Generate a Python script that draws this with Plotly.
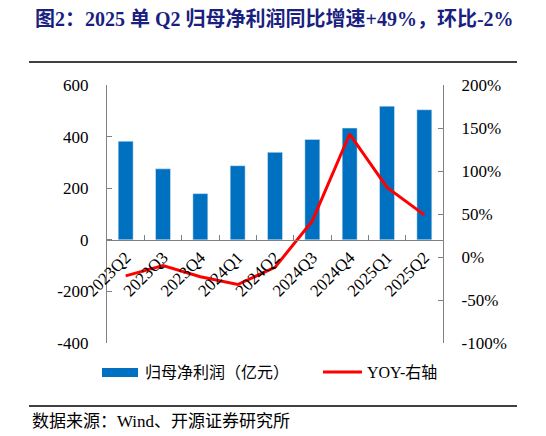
import plotly.graph_objects as go

# Data
quarters = ['2023Q2', '2023Q3', '2023Q4', '2024Q1', '2024Q2',
            '2024Q3', '2024Q4', '2025Q1', '2025Q2']
profit = [382, 275, 179, 287, 339, 389, 433, 518, 504]   # 归母净利润 (亿元)
yoy = [-22, -10, -23, -32, -12, 42, 143, 81, 49]         # YOY, %

left_ticks = [-400, -200, 0, 200, 400, 600]
left_labels = ['-400', '-200', '0', '200', '400', '600']
right_ticks = [-100, -50, 0, 50, 100, 150, 200]
right_labels = ['-100%', '-50%', '0%', '50%', '100%', '150%', '200%']

title_text = '图2：2025 单 Q2 归母净利润同比增速+49%，环比-2%'
source_text = '数据来源：Wind、开源证券研究所'
legend_names = ['归母净利润（亿元）', 'YOY-右轴']

serif = 'Liberation Serif, Noto Sans CJK SC'
axis_grey = '#808080'

# plot area in pixels (to place the surrounding decorations)
W, H = 546, 436
L, R, T, B = 107, 443, 85, 343


def px(x):
    return (x - L) / (R - L)


def py(y):
    return (B - y) / (B - T)


fig = go.Figure()
fig.add_trace(go.Bar(x=quarters, y=profit, name=legend_names[0],
                     marker=dict(color='#0070C0'), width=0.4,
                     showlegend=False))
fig.add_trace(go.Scatter(x=quarters, y=yoy, name=legend_names[1], yaxis='y2',
                         mode='lines', line=dict(color='#FF0000', width=3),
                         showlegend=False))

fig.update_layout(
    width=W, height=H,
    margin=dict(l=L, r=W - R, t=T, b=H - B),
    plot_bgcolor='white', paper_bgcolor='white',
    font=dict(family=serif, size=17, color='black'),
    xaxis=dict(anchor='free', position=0.4, showline=True, linecolor=axis_grey,
               linewidth=1.3, ticks='inside', ticklen=5, tickcolor=axis_grey,
               tickson='boundaries', tickangle=-45, showgrid=False,
               tickfont=dict(size=17)),
    yaxis=dict(range=[-400, 600], tickvals=left_ticks, ticktext=left_labels,
               showgrid=False, zeroline=False,
               showline=True, linecolor=axis_grey, linewidth=1.3,
               ticks='inside', ticklen=5, tickcolor=axis_grey,
               ticklabelstandoff=14),
    yaxis2=dict(range=[-100, 200], tickvals=right_ticks, ticktext=right_labels,
                overlaying='y', side='right', anchor='x',
                showgrid=False, zeroline=False,
                showline=True, linecolor=axis_grey, linewidth=1.3,
                ticks='inside', ticklen=5, tickcolor=axis_grey,
                ticklabelstandoff=14),
    showlegend=False,
)

# title, separator lines and source note
fig.add_annotation(text='<b>' + title_text + '</b>', xref='paper', yref='paper',
                   x=px(33), y=py(18), xanchor='left', yanchor='middle',
                   showarrow=False, font=dict(size=20, color='#1a1f80', family=serif))
for yline in (62, 406):
    fig.add_shape(type='line', xref='paper', yref='paper',
                  x0=px(29), x1=px(517), y0=py(yline), y1=py(yline),
                  line=dict(color='black', width=1.3))
fig.add_annotation(text=source_text, xref='paper', yref='paper',
                   x=px(30), y=py(421), xanchor='left', yanchor='middle',
                   showarrow=False, font=dict(size=17, family=serif))

# legend drawn by hand to match the wide swatches
fig.add_shape(type='rect', xref='paper', yref='paper',
              x0=px(102), x1=px(138), y0=py(368), y1=py(377),
              fillcolor='#0070C0', line=dict(width=0))
fig.add_annotation(text=legend_names[0], xref='paper', yref='paper',
                   x=px(143), y=py(372), xanchor='left', yanchor='middle',
                   showarrow=False, font=dict(size=16, family=serif))
fig.add_shape(type='line', xref='paper', yref='paper',
              x0=px(323), x1=px(362), y0=py(372), y1=py(372),
              line=dict(color='#FF0000', width=3))
fig.add_annotation(text=legend_names[1], xref='paper', yref='paper',
                   x=px(365), y=py(372), xanchor='left', yanchor='middle',
                   showarrow=False, font=dict(size=16, family=serif))

# drop the default page margin so the figure sits at the window corner
fig.write_html('out.html', config={'displayModeBar': False},
               post_script="document.body.style.margin='0px';")
